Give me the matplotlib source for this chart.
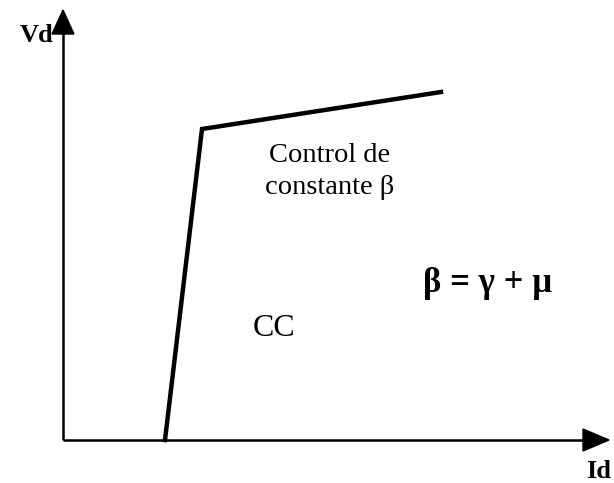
import matplotlib
matplotlib.use('Agg')
import matplotlib.pyplot as plt

# Vd-Id characteristic: constant current (CC) segment, then constant beta control
id_pts = [102, 139, 378]
vd_pts = [0, 311, 348]

# axis extents
id_max = 546
vd_max = 430

plt.rcParams['font.family'] = ['Liberation Serif', 'DejaVu Serif']

fig = plt.figure(figsize=(6.14, 4.83), dpi=100)
ax = fig.add_axes([0, 0, 1, 1])
ox, oy = 63, 43
ax.set_xlim(-ox, 614 - ox)
ax.set_ylim(-oy, 483 - oy)
ax.axis('off')

# axes with arrow heads
ax.plot([0, id_max - 24], [0, 0], color='black', lw=1.8, solid_capstyle='butt')
ax.plot([0, 0], [0, vd_max - 22], color='black', lw=1.8, solid_capstyle='butt')
ax.fill([id_max - 26, id_max, id_max - 26], [-11, 0, 11], color='black')
ax.fill([-11, 0, 11], [vd_max - 24, vd_max, vd_max - 24], color='black')

ax.plot(id_pts, vd_pts, color='black', lw=3.2, solid_joinstyle='miter')

ax.text(-9, vd_max - 26, 'Vd', ha='right', va='center', fontsize=19, fontweight='bold')
ax.text(id_max - 10, -31, 'Id', ha='center', va='center', fontsize=19, fontweight='bold')
ax.text(267, 285, 'Control de', ha='center', va='center', fontsize=20.5)
ax.text(267, 252, 'constante β', ha='center', va='center', fontsize=20.5)
ax.text(425, 157, 'β = γ + μ', ha='center', va='center', fontsize=25, fontweight='bold')
ax.text(211, 112, 'CC', ha='center', va='center', fontsize=23)

fig.savefig('out.png', dpi=100)
